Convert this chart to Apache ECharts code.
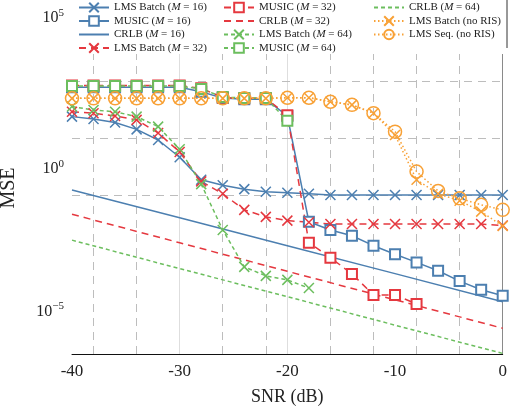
<!DOCTYPE html>
<html>
<head>
<meta charset="utf-8">
<script src="https://cdn.jsdelivr.net/npm/echarts@6/dist/echarts.min.js"></script>
<style>html,body{margin:0;padding:0;background:#fff}#c{width:510px;height:410px}</style>
</head>
<body>
<div id="c"></div>
<script>
// ---- data (MSE values) ----
const snr = [-40,-38,-36,-34,-32,-30,-28,-26,-24,-22,-20,-18,-16,-14,-12,-10,-8,-6,-4,-2,0];
const crlbSnr = [-40,-30,-20,-10,0];

const lmsBatch16 = [56,46,35,20,8.5,2.1,0.34,0.22,0.16,0.13,0.12,0.11,0.1,0.1,0.1,0.1,0.1,0.1,0.1,0.1,0.1];
const music16 = [600,600,600,600,600,600,420,250,230,230,59,0.0115,0.0059,0.0037,0.00166,0.00083,0.00043,0.00022,0.000095,0.000047,0.000029];
const crlb16 = [0.15,0.0158,0.00166,0.000174,0.000018];

const lmsBatch32 = [83,74,59,43,15,3.2,0.3,0.11,0.03,0.017,0.0126,0.011,0.0095,0.0095,0.0095,0.0095,0.0095,0.0095,0.0095,0.0095,0.0085];
const music32 = [690,690,690,690,690,690,550,263,245,245,63,0.0021,0.00063,0.00017,0.000031,0.000031,0.000015];
const crlb32 = [0.021,0.0021,0.00021,0.000021,0.0000021];

const lmsBatch64 = [126,95,83,56,25,4.0,0.24,0.0059,0.0003,0.000145,0.000105,0.000054];
const music64 = [660,660,660,660,660,660,525,275,250,250,40];
const crlb64 = [0.0026,0.00026,0.000027,0.0000027,0.000000275];

const lmsBatchNoRis = [245,245,245,245,245,245,245,245,245,245,257,257,186,145,74,12.6,0.34,0.11,0.063,0.026,0.0081];
const lmsSeqNoRis = [245,245,245,245,245,245,245,245,245,245,257,257,186,145,74,16.6,0.66,0.138,0.076,0.045,0.03];

// gridline positions (axis values)
const xGridDashed = [-38,-34,-26,-22,-16,-12,-8,-4];
const xGridSolid = [-30,-20];
const yGridDashed = [1e3,1e1,1e-1,1e-3];
const yGridSolid = [1e-5];

// ---- styling ----
const FONT = 'Liberation Serif';
const BLUE = '#4C7FB0', RED = '#E5383F', GREEN = '#6CBE5E', ORANGE = '#F8A136';
const XMARK = 'path://M0 0L10 10M10 0L0 10';

function pairs(xs, ys) { return ys.map((v, i) => [xs[i], v]); }

function mk(name, xs, ys, color, dash, symbol, size, fill) {
  return {
    name, type: 'line', data: pairs(xs, ys), z: 2,
    color: color,
    lineStyle: { color, width: 1.5, type: dash },
    symbol: symbol || 'none', symbolSize: size || 10, showSymbol: !!symbol,
    itemStyle: { color: fill || color, borderColor: color, borderWidth: 1.5 },
    emphasis: { disabled: true }, silent: true
  };
}

const gridSeries = {
  name: '_grid', type: 'line', data: [], z: 1, silent: true,
  markLine: {
    z: 1, silent: true, symbol: 'none', label: { show: false }, animation: false,
    data: [].concat(
      xGridDashed.map(v => ({ xAxis: v, lineStyle: { color: '#bdbdbd', width: 1, type: [8, 6] } })),
      xGridSolid.map(v => ({ xAxis: v, lineStyle: { color: '#dedede', width: 1, type: 'solid' } })),
      yGridDashed.map(v => ({ yAxis: v, lineStyle: { color: '#bdbdbd', width: 1, type: [8, 6] } })),
      yGridSolid.map(v => ({ yAxis: v, lineStyle: { color: '#dedede', width: 1, type: 'solid' } })),
      [{ xAxis: 0, lineStyle: { color: '#8a8a8a', width: 1, type: 'solid' } }]
    )
  }
};

const series = [
  gridSeries,
  mk('LMS Batch (M = 16)', snr, lmsBatch16, BLUE, 'solid', XMARK, 10),
  mk('MUSIC (M = 16)', snr, music16, BLUE, 'solid', 'emptyRect', 10),
  mk('CRLB (M = 16)', crlbSnr, crlb16, BLUE, 'solid'),
  mk('LMS Batch (M = 32)', snr, lmsBatch32, RED, [7, 5], XMARK, 10),
  mk('MUSIC (M = 32)', snr, music32, RED, [7, 5], 'emptyRect', 10),
  mk('CRLB (M = 32)', crlbSnr, crlb32, RED, [7, 5]),
  mk('LMS Batch (M = 64)', snr, lmsBatch64, GREEN, [4, 3], XMARK, 10),
  mk('MUSIC (M = 64)', snr, music64, GREEN, [4, 3], 'emptyRect', 10),
  mk('CRLB (M = 64)', crlbSnr, crlb64, GREEN, [4, 3]),
  mk('LMS Batch (no RIS)', snr, lmsBatchNoRis, ORANGE, [1.5, 2.5], XMARK, 10),
  mk('LMS Seq. (no RIS)', snr, lmsSeqNoRis, ORANGE, [1.5, 2.5], 'circle', 13, 'rgba(0,0,0,0)')
];

function legend(left, names) {
  return {
    data: names.map(n => n.indexOf('CRLB') === 0 ? { name: n, itemStyle: { opacity: 0 } } : n),
    orient: 'vertical', left: left, top: 1, padding: 0,
    itemWidth: 30, itemHeight: 12, itemGap: 0.5,
    selectedMode: false,
    textStyle: {
      fontFamily: FONT, fontSize: 11, color: '#222', lineHeight: 13,
      rich: { i: { fontFamily: FONT, fontSize: 11, fontStyle: 'italic', color: '#222' } }
    },
    formatter: n => n.replace('(M =', '({i|M} =')
  };
}

const option = {
  animation: false,
  backgroundColor: '#fff',
  grid: { left: 72, right: 7.3, top: 0, bottom: 56, containLabel: false, outerBoundsMode: 'none' },
  xAxis: {
    type: 'value', min: -40, max: 0, interval: 10,
    axisLine: { show: true, lineStyle: { color: '#111', width: 1 } },
    axisTick: { show: false },
    splitLine: { show: false },
    axisLabel: { fontFamily: FONT, fontSize: 17, color: '#222', margin: 9 },
    name: 'SNR (dB)', nameLocation: 'middle', nameGap: 34,
    nameTextStyle: { fontFamily: FONT, fontSize: 18, color: '#222' }
  },
  yAxis: {
    type: 'log', logBase: 100000,
    min: 2.63e-7, max: 6.92e5,
    axisLine: { show: false },
    axisTick: { show: false },
    splitLine: { show: false },
    axisLabel: {
      showMinLabel: false, showMaxLabel: false, margin: 8,
      formatter: function (v) {
        const e = Math.log10(v), r = Math.round(e);
        if (Math.abs(e - r) > 1e-6) return '';
        const ex = r < 0 ? '\u2212' + (-r) : String(r);
        if (r === 5) return '{b|10}{s|' + ex + '}\n{g| }';
        return '{b|10}{s|' + ex + '}';
      },
      rich: {
        b: { fontFamily: FONT, fontSize: 16, lineHeight: 16, padding: [5, 0, 0, 0], color: '#222' },
        s: { fontFamily: FONT, fontSize: 11, lineHeight: 11, verticalAlign: 'top', color: '#222' },
        g: { fontFamily: FONT, fontSize: 10, lineHeight: 17 }
      }
    },
    name: 'MSE', nameLocation: 'middle', nameGap: 53, nameRotate: 90,
    nameTextStyle: { fontFamily: FONT, fontSize: 20, color: '#222', padding: [0, 22, 0, 0] }
  },
  legend: [
    legend(78, ['LMS Batch (M = 16)', 'MUSIC (M = 16)', 'CRLB (M = 16)', 'LMS Batch (M = 32)']),
    legend(223, ['MUSIC (M = 32)', 'CRLB (M = 32)', 'LMS Batch (M = 64)', 'MUSIC (M = 64)']),
    legend(373, ['CRLB (M = 64)', 'LMS Batch (no RIS)', 'LMS Seq. (no RIS)'])
  ],
  graphic: [
    { type: 'rect', left: 73, top: 0, z: 3, silent: true, shape: { width: 434, height: 54 }, style: { fill: '#fff' } },
    { type: 'line', z: 5, silent: true, shape: { x1: 507, y1: 0, x2: 507, y2: 48 }, style: { stroke: '#333', lineWidth: 1 } }
  ],
  series: series
};

const chart = echarts.init(document.getElementById('c'), null, { renderer: 'canvas' });
chart.setOption(option);
</script>
</body>
</html>
